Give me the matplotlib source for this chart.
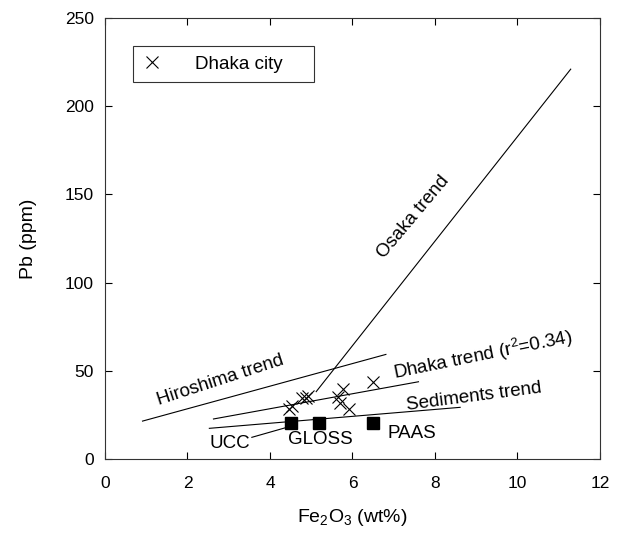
import matplotlib
matplotlib.use("Agg")
import matplotlib.pyplot as plt

plt.rcParams['font.family'] = ['Liberation Sans', 'DejaVu Sans']
plt.rcParams['mathtext.fontset'] = 'custom'
plt.rcParams['mathtext.rm'] = 'Liberation Sans'
plt.rcParams['mathtext.it'] = 'Liberation Sans'

# Dhaka city samples
dhaka_fe = [4.47, 4.53, 4.77, 4.87, 4.92, 5.78, 5.66, 5.70, 5.92, 6.50]
dhaka_pb = [28.5, 29.8, 34.5, 34.8, 35.5, 39.7, 35.3, 31.6, 28.2, 43.9]

# reference compositions
ref_names = ['UCC', 'GLOSS', 'PAAS']
ref_fe = [4.50, 5.20, 6.49]
ref_pb = [20.2, 20.2, 20.2]

# trend lines (endpoints)
osaka_fe = [5.12, 11.29]
osaka_pb = [38.2, 221.0]
hiroshima_fe = [0.91, 6.81]
hiroshima_pb = [21.5, 59.3]
dhaka_trend_fe = [2.63, 7.60]
dhaka_trend_pb = [22.7, 43.8]
sediments_fe = [2.53, 8.61]
sediments_pb = [17.4, 29.3]
ucc_leader_fe = [3.56, 4.40]
ucc_leader_pb = [12.3, 17.9]

xticks = [0, 2, 4, 6, 8, 10, 12]
yticks = [0, 50, 100, 150, 200, 250]

fig = plt.figure(figsize=(6.19, 5.34), dpi=100)
ax = fig.add_axes([0.1696, 0.1404, 0.7997, 0.8259])

lw = 0.8
for fx, py in [(osaka_fe, osaka_pb), (hiroshima_fe, hiroshima_pb),
               (dhaka_trend_fe, dhaka_trend_pb), (sediments_fe, sediments_pb),
               (ucc_leader_fe, ucc_leader_pb)]:
    ax.plot(fx, py, color='black', lw=lw)

ax.plot(dhaka_fe, dhaka_pb, linestyle='none', marker='x', markersize=8.5,
        markeredgewidth=0.8, color='black', label='Dhaka city')
ax.plot(ref_fe, ref_pb, linestyle='none', marker='s', markersize=8,
        color='black')

fs = 13.5
ax.text(2.79, 44.8, 'Hiroshima trend', rotation=18, ha='center', va='center', fontsize=fs)
ax.text(9.17, 59.0, r'Dhaka trend (r$^2$=0.34)', rotation=11.5, ha='center', va='center', fontsize=fs)
ax.text(8.95, 35.3, 'Sediments trend', rotation=7.4, ha='center', va='center', fontsize=fs)
ax.text(7.47, 137.4, 'Osaka trend', rotation=50, ha='center', va='center', fontsize=fs)
ax.text(3.03, 8.8, ref_names[0], ha='center', va='center', fontsize=fs)
ax.text(5.21, 10.8, ref_names[1], ha='center', va='center', fontsize=fs)
ax.text(7.43, 14.6, ref_names[2], ha='center', va='center', fontsize=fs)

ax.set_xlim(0, 12)
ax.set_ylim(0, 250)
ax.set_xticks(xticks)
ax.set_yticks(yticks)
ax.tick_params(direction='in', top=True, right=True, length=5, width=0.8,
               labelsize=12.5, pad=8)
ax.tick_params(axis='x', pad=12)
for s in ax.spines.values():
    s.set_linewidth(0.8)
    s.set_color('#333333')

ax.set_xlabel(r'Fe$_2$O$_3$ (wt%)', fontsize=14, labelpad=12)
ax.set_ylabel('Pb (ppm)', fontsize=14, labelpad=20)

leg = ax.legend(loc='center', bbox_to_anchor=(0.0566, 0.850, 0.366, 0.091),
                mode='expand', frameon=True, fancybox=False, fontsize=13.5,
                handlelength=1.0, handletextpad=1.8, borderpad=0.5,
                borderaxespad=0)
leg.get_frame().set_edgecolor('black')
leg.get_frame().set_linewidth(0.8)

fig.savefig('out.png', dpi=100)
